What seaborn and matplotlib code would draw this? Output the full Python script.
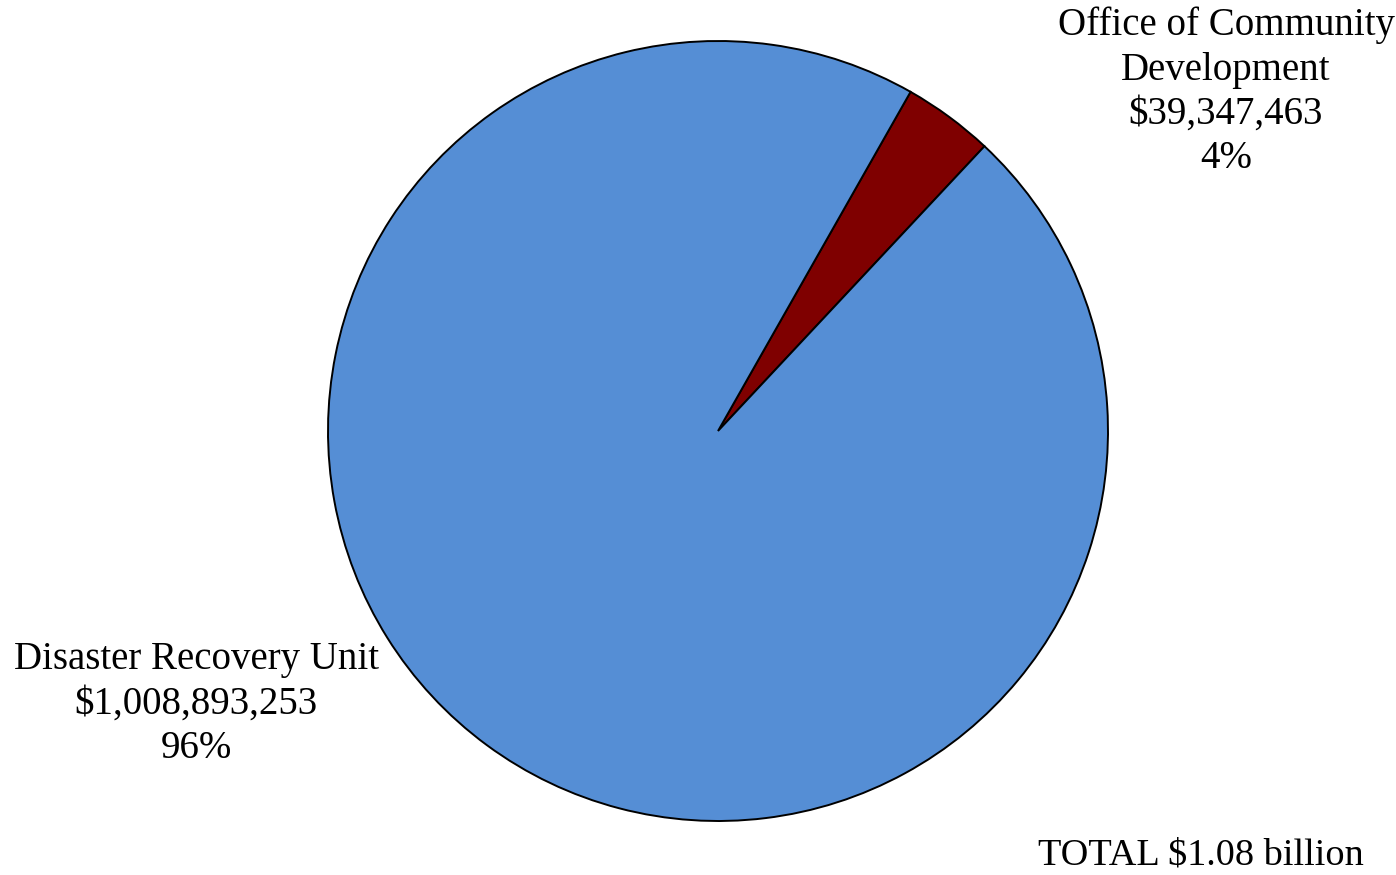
import matplotlib
matplotlib.use("Agg")
import matplotlib.pyplot as plt
import seaborn as sns

# Funding by unit
units = ["Office of Community\nDevelopment", "Disaster Recovery Unit"]
amounts = [39347463, 1008893253]
amount_labels = ["$39,347,463", "$1,008,893,253"]
pct_labels = ["4%", "96%"]
total_label = "TOTAL $1.08 billion"
slice_colors = ["#7F0000", "#558ED5"]

sns.set_theme(style="white")
plt.rcParams["font.family"] = ["Liberation Serif", "DejaVu Serif"]

fig = plt.figure(figsize=(13.96, 8.75), dpi=100)
W, H = 1396, 875
cx, cy, r = 718, 431, 390
ax = fig.add_axes([(cx - r) / W, (H - cy - r) / H, 2 * r / W, 2 * r / H])

wedges, _ = ax.pie(amounts, colors=slice_colors, startangle=46.9,
                   counterclock=True, radius=1.0,
                   wedgeprops=dict(edgecolor="black", linewidth=1.4))
for w in wedges:
    w.set_clip_on(False)
ax.set_xlim(-1.0, 1.0)
ax.set_ylim(-1.0, 1.0)
ax.set_aspect("equal")
ax.axis("off")

fs = 28
fig.text(1226 / W, 1 - 92 / H,
         f"{units[0]}\n{amount_labels[0]}\n{pct_labels[0]}",
         ha="center", va="center", multialignment="center",
         fontsize=fs, color="black", linespacing=1.26)
fig.text(196 / W, 1 - 704 / H,
         f"{units[1]}\n{amount_labels[1]}\n{pct_labels[1]}",
         ha="center", va="center", multialignment="center",
         fontsize=fs, color="black", linespacing=1.26)
fig.text(1201 / W, 1 - 855 / H, total_label,
         ha="center", va="center", fontsize=fs - 0.5, color="black")

fig.savefig("out.png", dpi=100, facecolor="white")
